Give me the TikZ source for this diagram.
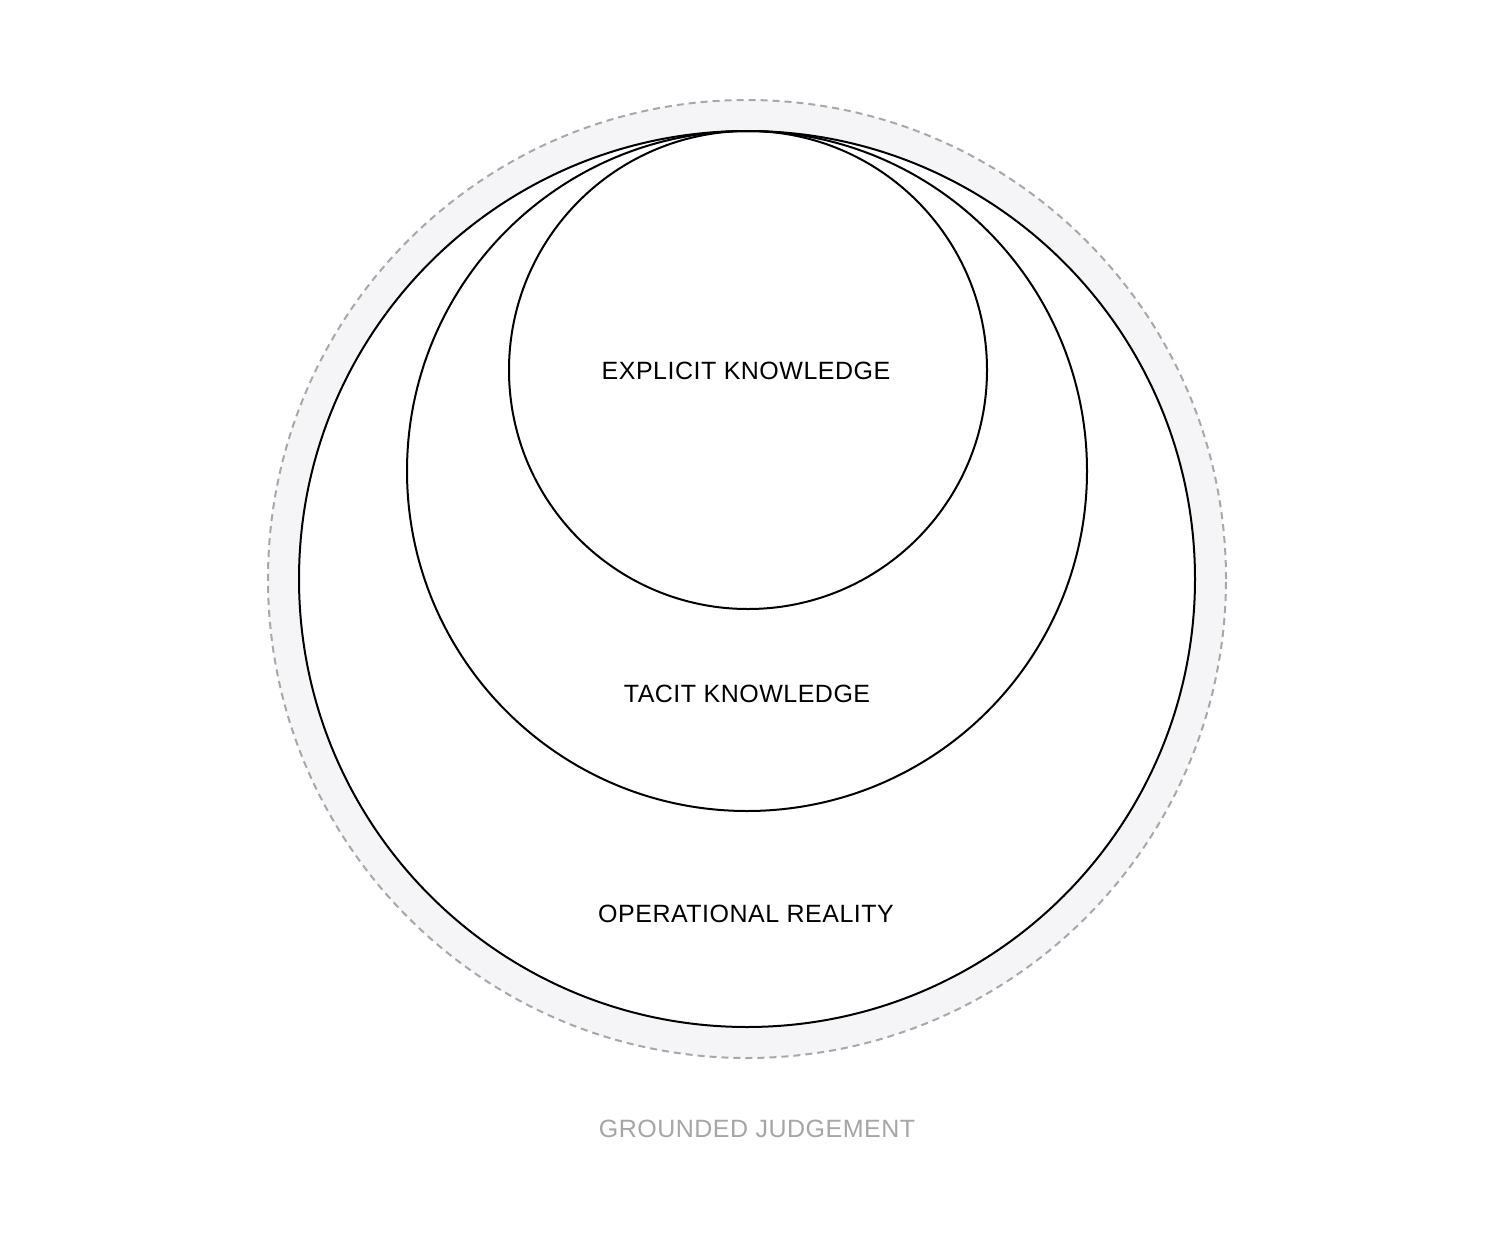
\documentclass[tikz,border=0pt]{standalone}
\usepackage{fontspec}
\setmainfont{Liberation Sans}[LetterSpace=2]
\begin{document}
\begin{tikzpicture}[x=1pt,y=-1pt,
  ring/.style={circle,draw=black,line width=2pt,inner sep=0pt},
  lbl/.style={font=\fontsize{25}{29}\selectfont,text=black,inner sep=0pt},
  glbl/.style={font=\fontsize{25}{29}\selectfont,text=textgray,inner sep=0pt}]
\definecolor{bandgray}{HTML}{F5F5F7}
\definecolor{dashgray}{HTML}{A8A8A8}
\definecolor{textgray}{HTML}{A6A6A6}
\useasboundingbox[fill=white] (0,0) rectangle (1494,1258);
\node[circle,minimum size=958pt,inner sep=0pt,fill=bandgray,draw=dashgray,line width=2pt,dash pattern=on 7pt off 5pt] (judge) at (747,579) {};
\node[ring,fill=white,minimum size=896pt] (oper) at (747,579) {};
\node[ring,minimum size=680pt] (tacit) at (747,471) {};
\node[ring,minimum size=478pt] (expl) at (748,370) {};
\node[lbl] (tx) at (746,371) {EXPLICIT KNOWLEDGE};
\node[lbl] (tt) at (747,694) {TACIT KNOWLEDGE};
\node[lbl] (to) at (746,914) {OPERATIONAL REALITY};
\node[glbl] (tg) at (757,1129) {GROUNDED JUDGEMENT};
\end{tikzpicture}
\end{document}
